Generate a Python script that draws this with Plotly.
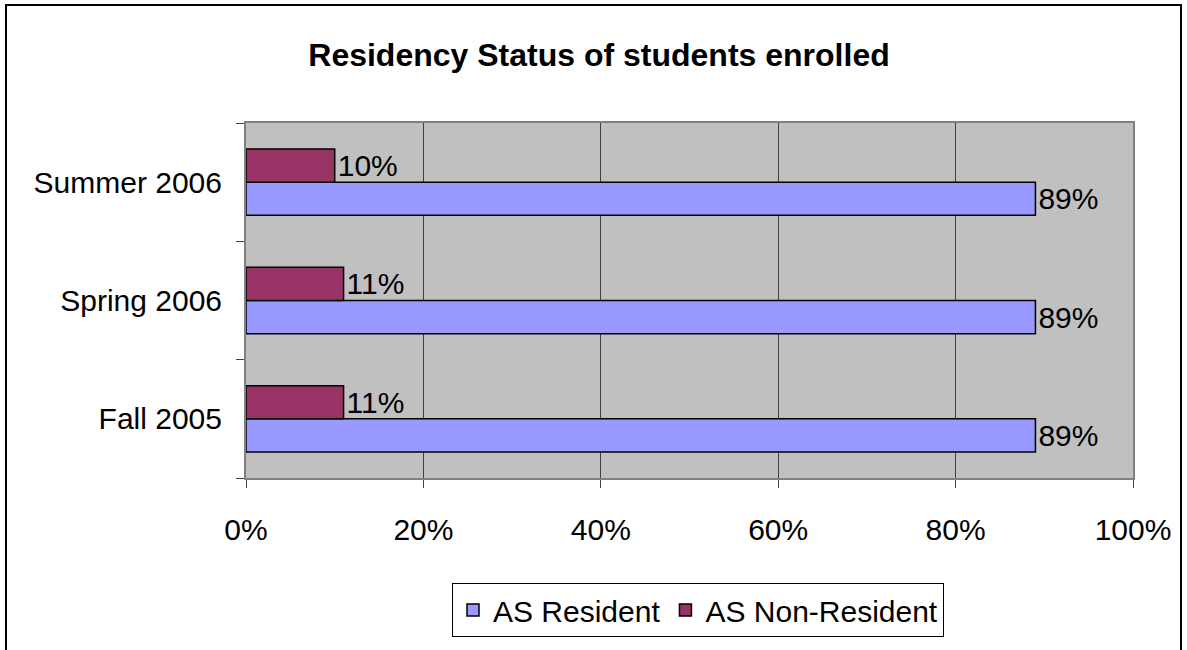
import plotly.graph_objects as go

categories = ["Fall 2005", "Spring 2006", "Summer 2006"]
resident = [89, 89, 89]
non_resident = [11, 11, 10]
x_ticks = [0, 20, 40, 60, 80, 100]
x_tick_labels = ["0%", "20%", "40%", "60%", "80%", "100%"]

W, H = 1187, 650
L, R, T, B = 246, 1133, 123, 478
pw, ph = R - L, B - T

def px_x(p):
    return (p - L) / pw

def px_y(p):
    return (B - p) / ph

FONT = "Liberation Sans, Arial, sans-serif"
FS = 30

fig = go.Figure()
fig.add_trace(go.Bar(
    y=categories, x=resident, orientation="h", name="AS Resident",
    marker=dict(color="#9999FF", line=dict(color="#000000", width=1.5)),
    text=[f"{v}%" for v in resident], textposition="outside",
    textfont=dict(size=FS, color="#000000", family=FONT), cliponaxis=False,
))
fig.add_trace(go.Bar(
    y=categories, x=non_resident, orientation="h", name="AS Non-Resident",
    marker=dict(color="#993366", line=dict(color="#000000", width=1.5)),
    text=[f"{v}%" for v in non_resident], textposition="outside",
    textfont=dict(size=FS, color="#000000", family=FONT), cliponaxis=False,
))

fig.update_layout(
    width=W, height=H,
    margin=dict(l=L, r=W - R, t=T, b=H - B, pad=0),
    paper_bgcolor="#FFFFFF", plot_bgcolor="#C0C0C0",
    barmode="group", bargap=0.44, bargroupgap=0,
    font=dict(family=FONT, size=FS, color="#000000"),
    title=dict(text="<b>Residency Status of students enrolled</b>",
               x=599 / W, xanchor="center", y=1 - 55 / H, yanchor="middle",
               font=dict(size=32, family=FONT, color="#000000")),
    showlegend=True,
    legend=dict(orientation="h", x=px_x(698), xanchor="center",
                y=px_y(583), yanchor="top",
                bordercolor="#000000", borderwidth=1, bgcolor="#FFFFFF",
                font=dict(size=FS, family=FONT), traceorder="normal",
                itemwidth=30),
    xaxis=dict(range=[0, 100], tickvals=x_ticks, ticktext=x_tick_labels,
               showgrid=True, gridcolor="#404040", gridwidth=1,
               showline=True, linecolor="#808080", linewidth=2, mirror=True,
               ticks="outside", ticklen=8, tickcolor="#404040",
               ticklabelstandoff=16, zeroline=False,
               tickfont=dict(size=FS, family=FONT)),
    yaxis=dict(type="category", categoryorder="array", categoryarray=categories,
               showgrid=False, showline=True, linecolor="#808080", linewidth=2,
               mirror=True, ticks="outside", ticklen=8, tickcolor="#404040",
               tickson="boundaries", ticklabelstandoff=16,
               tickfont=dict(size=FS, family=FONT)),
    shapes=[dict(type="path", xref="paper", yref="paper",
                 path=f"M {px_x(6)} {px_y(700)} L {px_x(6)} {px_y(5)} L {px_x(1181)} {px_y(5)} L {px_x(1181)} {px_y(700)}",
                 line=dict(color="#000000", width=2))],
)

fig.write_html("out.html",
               config={"displayModeBar": False},
               post_script="document.body.style.margin='0px';document.body.style.overflow='hidden';")
